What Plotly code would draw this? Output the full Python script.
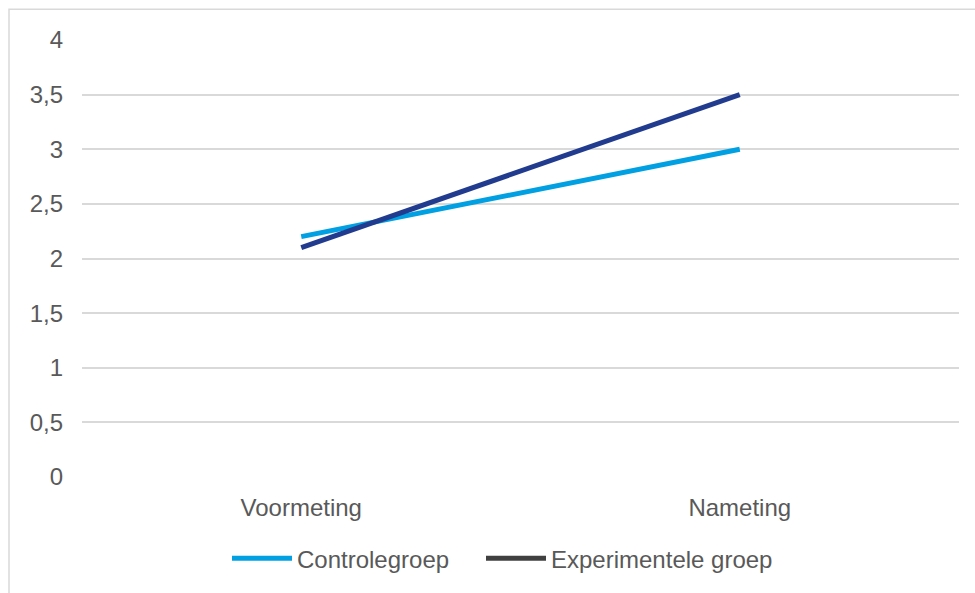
import plotly.graph_objects as go

# Meetmomenten en gemiddelde scores per groep
momenten = ["Voormeting", "Nameting"]
controlegroep = [2.2, 3.0]
experimentele_groep = [2.1, 3.5]
y_ticks = [0, 0.5, 1, 1.5, 2, 2.5, 3, 3.5, 4]
y_labels = ["0", "0,5", "1", "1,5", "2", "2,5", "3", "3,5", "4"]

series = [
    ("Controlegroep", controlegroep, "#00A0E3", "#00A0E3", "legend", 227),
    ("Experimentele groep", experimentele_groep, "#213B8F", "#404040", "legend2", 481),
]

fig = go.Figure()
for naam, waarden, kleur, legendakleur, leg, lx in series:
    fig.add_trace(go.Scatter(
        x=momenten, y=waarden, mode="lines", name=naam,
        line=dict(color=kleur, width=5), showlegend=False,
        hoverinfo="x+y+name",
    ))
# legenda-items, elk in een eigen legenda
legend_layout = {}
for naam, waarden, kleur, legendakleur, leg, lx in series:
    fig.add_trace(go.Scatter(
        x=[None], y=[None], mode="lines", name=naam, legend=leg,
        line=dict(color=legendakleur, width=5), showlegend=True,
    ))
    legend_layout[leg] = dict(
        orientation="h", x=(lx - 82) / 877, xanchor="left", y=-0.187, yanchor="middle",
        font=dict(size=24, color="#595959"), itemwidth=60,
        bgcolor="rgba(0,0,0,0)",
    )

fig.update_layout(
    width=975, height=593,
    margin=dict(l=82, r=16, t=40, b=114),
    paper_bgcolor="white", plot_bgcolor="white",
    font=dict(family="Liberation Sans, Arial, sans-serif", size=24, color="#595959"),
    showlegend=True,
    xaxis=dict(
        type="category", range=[-0.5, 1.5], showgrid=False, zeroline=False,
        showline=False, ticks="", tickfont=dict(size=24, color="#595959"),
        ticklabelstandoff=14,
    ),
    yaxis=dict(
        range=[0, 4], tickvals=y_ticks, ticktext=y_labels,
        showgrid=True, gridcolor="#D9D9D9", gridwidth=1.5,
        zeroline=False, showline=False, ticks="",
        tickfont=dict(size=24, color="#595959"), ticklabelstandoff=18,
    ),
    shapes=[dict(
        type="rect", xref="paper", yref="paper",
        x0=(9 - 82) / 877, x1=1.2, y0=-0.6, y1=1 + (40 - 9) / 439,
        line=dict(color="#D9D9D9", width=1.5), fillcolor="rgba(0,0,0,0)",
        layer="below",
    )],
    **legend_layout,
)

fig.write_html("out.html")
